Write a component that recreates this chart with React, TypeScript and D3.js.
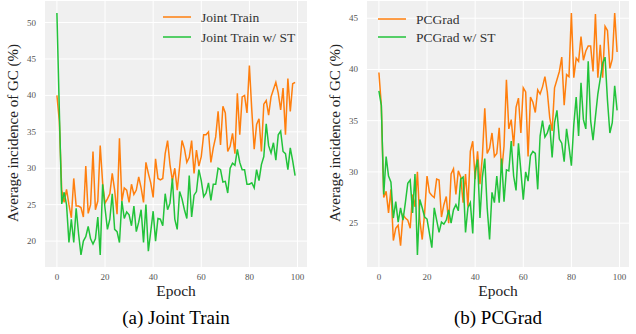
import React from "react";
import * as d3 from "d3";

const epochs = d3.range(100);
const xTicks = [0, 20, 40, 60, 80, 100];

const jointTrain = [40.0, 36.5, 27.0, 25.3, 27.1, 25.0, 23.2, 28.6, 24.8, 24.8,
  24.6, 23.3, 30.3, 23.8, 25.0, 32.3, 24.3, 25.5, 33.1, 28.0,
  25.2, 25.8, 26.5, 29.3, 27.0, 23.7, 34.1, 25.5, 27.3, 27.0,
  25.3, 27.8, 26.4, 27.0, 28.8, 27.3, 25.3, 30.8, 29.3, 28.0,
  26.0, 31.3, 28.6, 28.4, 28.6, 32.0, 33.8, 30.5, 28.3, 30.0,
  27.0, 30.2, 33.8, 32.7, 30.8, 31.5, 33.8, 29.3, 32.5, 30.3,
  31.6, 34.6, 34.6, 35.0, 30.8, 32.8, 34.3, 37.8, 33.2, 38.5,
  37.6, 32.3, 33.0, 34.8, 32.0, 40.3, 34.6, 39.8, 40.0, 37.6,
  44.1, 38.0, 32.6, 36.0, 36.8, 32.3, 38.8, 39.3, 37.3, 39.8,
  40.8, 41.8, 40.3, 38.0, 41.0, 34.6, 42.3, 37.8, 41.6, 41.8];

const jointTrainST = [51.3, 38.0, 25.1, 26.7, 25.0, 19.8, 23.0, 19.8, 24.5, 21.0,
  18.1, 20.0, 20.6, 22.0, 20.3, 19.6, 20.3, 23.3, 18.1, 27.8,
  24.5, 21.6, 23.0, 26.5, 21.6, 21.3, 19.8, 25.5, 23.1, 24.0,
  23.6, 22.1, 24.8, 21.3, 22.6, 24.3, 19.8, 25.0, 18.6, 21.3,
  24.1, 20.0, 23.1, 23.0, 22.1, 26.5, 24.3, 25.2, 28.6, 23.0,
  21.6, 26.8, 25.8, 24.3, 23.1, 29.0, 23.3, 26.3, 26.8, 29.8,
  28.3, 26.1, 26.6, 28.0, 25.6, 27.8, 27.8, 30.0, 29.8, 28.1,
  28.2, 26.6, 30.0, 30.7, 30.4, 32.6, 30.8, 29.8, 29.8, 27.8,
  27.8, 28.0, 27.3, 29.8, 28.3, 30.5, 31.6, 36.1, 33.1, 32.1,
  33.5, 31.1, 34.6, 35.1, 32.3, 32.0, 29.8, 32.8, 31.0, 29.0];

const pcgrad = [39.7, 36.5, 27.5, 28.1, 26.0, 28.3, 23.3, 24.5, 24.8, 22.8,
  25.8, 25.5, 25.3, 24.5, 27.8, 26.6, 30.0, 25.3, 23.4, 26.0,
  29.6, 28.0, 27.7, 27.5, 29.3, 29.2, 25.6, 26.8, 27.6, 25.0,
  29.8, 30.3, 27.8, 30.1, 29.5, 27.0, 29.8, 26.6, 32.0, 33.0,
  29.3, 32.0, 28.8, 31.5, 36.2, 31.8, 32.3, 33.8, 31.5, 31.8,
  34.3, 30.0, 32.5, 39.0, 34.2, 35.1, 32.5, 36.3, 37.2, 33.8,
  38.2, 37.8, 31.5, 37.3, 36.8, 35.8, 38.0, 37.6, 38.3, 39.3,
  37.8, 35.3, 34.0, 38.2, 39.0, 39.8, 41.2, 36.5, 39.5, 39.3,
  45.5, 39.2, 41.1, 40.8, 43.2, 40.9, 41.8, 42.3, 42.3, 39.8,
  45.4, 39.2, 42.4, 39.2, 44.2, 43.8, 40.1, 41.0, 45.5, 41.7];

const pcgradST = [37.9, 36.5, 27.8, 31.5, 29.6, 29.0, 25.5, 27.1, 25.1, 26.5,
  25.3, 27.0, 28.9, 29.2, 26.0, 29.8, 21.9, 27.3, 26.5, 25.6,
  25.4, 24.0, 22.6, 26.5, 25.3, 24.1, 25.1, 24.9, 25.3, 26.3,
  25.0, 26.3, 26.8, 26.2, 29.3, 29.5, 24.1, 26.5, 27.0, 24.0,
  30.0, 31.2, 25.5, 29.5, 31.3, 26.5, 23.4, 28.0, 27.0, 29.6,
  27.0, 31.3, 27.1, 30.2, 30.1, 33.0, 29.6, 28.2, 32.8, 30.1,
  27.3, 30.0, 29.1, 31.6, 32.0, 31.8, 28.3, 33.5, 35.0, 33.4,
  33.8, 34.6, 31.4, 34.8, 36.0, 33.2, 32.8, 31.0, 34.2, 32.5,
  30.6, 34.6, 37.3, 33.5, 38.7, 35.1, 34.2, 40.8, 35.0, 33.1,
  35.4, 37.6, 39.1, 40.6, 41.2, 37.0, 33.8, 34.8, 38.4, 36.0];

const leftYTicks = [20, 25, 30, 35, 40, 45, 50];
const rightYTicks = [25, 30, 35, 40, 45];

const ORANGE = "#ff7f0e";
const GREEN = "#22c33a";
const SERIF = "'Liberation Serif', 'Times New Roman', serif";

type PanelProps = {
  x0: number;
  a: number[];
  b: number[];
  labelA: string;
  labelB: string;
  yTicks: number[];
  caption: string;
  legendX: number;
  legendY: number;
  legendGap: number;
};

function Panel({ x0, a, b, labelA, labelB, yTicks, caption, legendX, legendY, legendGap }: PanelProps) {
  const left = x0;
  const right = x0 + 262;
  const top = 1;
  const bottom = 267;
  const xs = d3.scaleLinear().domain([-4.95, 103.95]).range([left, right]);
  const ext = d3.extent([...a, ...b]) as [number, number];
  const pad = (ext[1] - ext[0]) * 0.05;
  const ys = d3.scaleLinear().domain([ext[0] - pad, ext[1] + pad]).range([bottom, top]);
  const line = d3.line<number>().x((_, i) => xs(epochs[i])).y((d) => ys(d));
  const cx = (left + right) / 2;
  return (
    <g>
      <rect x={left} y={top} width={right - left} height={bottom - top} fill="#f0f0f0" />
      {xTicks.map((t) => (
        <line key={"gx" + t} x1={xs(t)} x2={xs(t)} y1={top} y2={bottom} stroke="#fff" strokeWidth={1} />
      ))}
      {yTicks.map((t) => (
        <line key={"gy" + t} x1={left} x2={right} y1={ys(t)} y2={ys(t)} stroke="#fff" strokeWidth={1} />
      ))}
      {xTicks.map((t) => (
        <text key={"tx" + t} x={xs(t)} y={280} textAnchor="middle" fontFamily={SERIF} fontSize={9} fill="#555">
          {t}
        </text>
      ))}
      {yTicks.map((t) => (
        <text key={"ty" + t} x={left - 9} y={ys(t) + 3} textAnchor="end" fontFamily={SERIF} fontSize={9} fill="#555">
          {t}
        </text>
      ))}
      <path d={line(a) || ""} fill="none" stroke={ORANGE} strokeWidth={1.5} />
      <path d={line(b) || ""} fill="none" stroke={GREEN} strokeWidth={1.5} />
      <line x1={legendX} x2={legendX + 28} y1={legendY} y2={legendY} stroke={ORANGE} strokeWidth={1.5} />
      <text x={legendX + 38} y={legendY + 4.5} fontFamily={SERIF} fontSize={13.5} fill="#333">{labelA}</text>
      <line x1={legendX} x2={legendX + 28} y1={legendY + legendGap} y2={legendY + legendGap} stroke={GREEN} strokeWidth={1.5} />
      <text x={legendX + 38} y={legendY + legendGap + 4.5} fontFamily={SERIF} fontSize={13.5} fill="#333">{labelB}</text>
      <text
        transform={`translate(${left - 27},${(top + bottom) / 2 - 1}) rotate(-90)`}
        textAnchor="middle"
        fontFamily={SERIF}
        fontSize={15}
        fill="#222"
      >
        Average incidence of GC (%)
      </text>
      <text x={cx} y={296} textAnchor="middle" fontFamily={SERIF} fontSize={15.5} fill="#222">Epoch</text>
      <text x={cx} y={324} textAnchor="middle" fontFamily={SERIF} fontSize={19} fill="#000">{caption}</text>
    </g>
  );
}

export default function App() {
  return (
    <svg
      width={636}
      height={334}
      style={{ position: "absolute", left: 0, top: 0, display: "block", background: "#fff" }}
    >
      <Panel
        x0={45}
        a={jointTrain}
        b={jointTrainST}
        labelA="Joint Train"
        labelB="Joint Train w/ ST"
        yTicks={leftYTicks}
        caption="(a) Joint Train"
        legendX={163}
        legendY={17}
        legendGap={20}
      />
      <Panel
        x0={367}
        a={pcgrad}
        b={pcgradST}
        labelA="PCGrad"
        labelB="PCGrad w/ ST"
        yTicks={rightYTicks}
        caption="(b) PCGrad"
        legendX={378}
        legendY={19}
        legendGap={18}
      />
    </svg>
  );
}
